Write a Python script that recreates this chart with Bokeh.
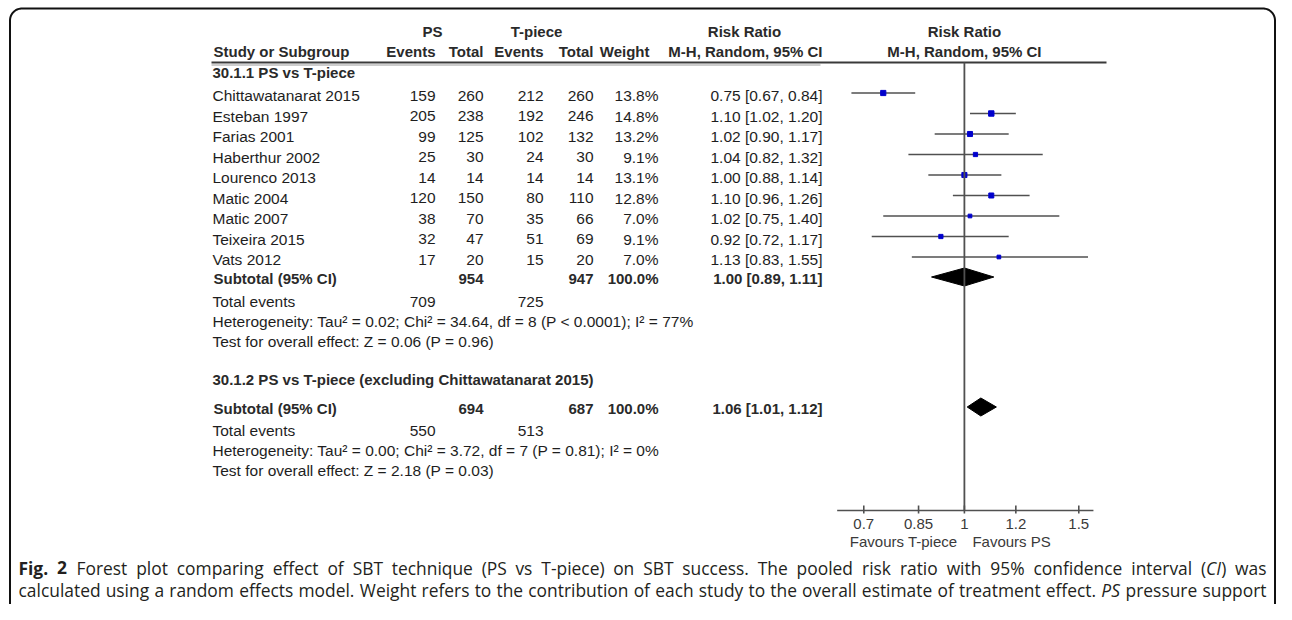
import numpy as np
from bokeh.plotting import figure
from bokeh.models import Range1d, LogScale, ColumnDataSource
from bokeh.core.properties import value
from bokeh.embed import file_html
from bokeh.resources import INLINE

# ---------------- data ----------------
studies = ["Chittawatanarat 2015", "Esteban 1997", "Farias 2001", "Haberthur 2002",
           "Lourenco 2013", "Matic 2004", "Matic 2007", "Teixeira 2015", "Vats 2012"]
ps_events = [159, 205, 99, 25, 14, 120, 38, 32, 17]
ps_total = [260, 238, 125, 30, 14, 150, 70, 47, 20]
tp_events = [212, 192, 102, 24, 14, 80, 35, 51, 15]
tp_total = [260, 246, 132, 30, 14, 110, 66, 69, 20]
weights = [13.8, 14.8, 13.2, 9.1, 13.1, 12.8, 7.0, 9.1, 7.0]
rr = [0.75, 1.10, 1.02, 1.04, 1.00, 1.10, 1.02, 0.92, 1.13]
rr_lo = [0.67, 1.02, 0.90, 0.82, 0.88, 0.96, 0.75, 0.72, 0.83]
rr_hi = [0.84, 1.20, 1.17, 1.32, 1.14, 1.26, 1.40, 1.17, 1.55]

groups = ["30.1.1 PS vs T-piece", "30.1.2 PS vs T-piece (excluding Chittawatanarat 2015)"]
sub_ps_total = [954, 694]
sub_tp_total = [947, 687]
sub_weight = [100.0, 100.0]
sub_ps_events = [709, 550]
sub_tp_events = [725, 513]
sub_rr = [1.00, 1.06]
sub_lo = [0.89, 1.01]
sub_hi = [1.11, 1.12]
heterogeneity = ["Heterogeneity: Tau\u00b2 = 0.02; Chi\u00b2 = 34.64, df = 8 (P < 0.0001); I\u00b2 = 77%",
                 "Heterogeneity: Tau\u00b2 = 0.00; Chi\u00b2 = 3.72, df = 7 (P = 0.81); I\u00b2 = 0%"]
overall = ["Test for overall effect: Z = 0.06 (P = 0.96)",
           "Test for overall effect: Z = 2.18 (P = 0.03)"]

tick_values = [0.7, 0.85, 1, 1.2, 1.5]
tick_labels = ["0.7", "0.85", "1", "1.2", "1.5"]
favours = ["Favours T-piece", "Favours PS"]

# caption: each line is a list of words; each word a list of (text, style) runs
caption_lines = [
    [[("Fig.", "bold")], [("2", "bold")]] +
    [[(w, "normal")] for w in "Forest plot comparing effect of SBT technique (PS vs T-piece) on SBT success. The pooled risk ratio with 95% confidence interval".split()] +
    [[("(", "normal"), ("CI", "italic"), (")", "normal")], [("was", "normal")]],
    [[(w, "normal")] for w in "calculated using a random effects model. Weight refers to the contribution of each study to the overall estimate of treatment effect.".split()] +
    [[("PS", "italic")], [("pressure", "normal")], [("support", "normal")]],
]

# ---------------- layout constants (page pixels) ----------------
W, H = 1276, 604
X_ONE, PX_PER_LOG = 963.9, 282.1          # where RR=1 sits and px per ln unit
AXIS_LIMITS = (0.637, 1.58)
Y_HEAD1, Y_HEAD2, Y_RULE = 31, 51, 62
Y_G1 = 72
Y_ROW0, ROW_STEP = 95, 20.5
Y_SUB1, Y_TE1, Y_HET1, Y_OV1 = 278, 301, 321, 341
Y_G2, Y_SUB2, Y_TE2, Y_HET2, Y_OV2 = 379, 408, 430, 450, 470
Y_AXIS = 510
X_NAME = 212
X_PSE, X_PST, X_TPE, X_TPT, X_W, X_CI = 435, 483, 543, 593, 658, 822
CAP_X0, CAP_X1, CAP_Y = 18, 1266, [567, 589.5]

FONT = value("Liberation Sans")
TXT = "#1e1e1e"
SIZE = "15.5px"
BSIZE = "15px"

p = figure(width=W, height=H, x_range=Range1d(0, W), y_range=Range1d(H, 0),
           output_backend="svg", toolbar_location=None, min_border=0,
           outline_line_color=None)
p.axis.visible = False
p.grid.visible = False
p.background_fill_color = "white"
p.border_fill_color = "white"

rr_start = float(np.exp((0 - X_ONE) / PX_PER_LOG))
rr_end = float(np.exp((W - X_ONE) / PX_PER_LOG))
p.extra_x_ranges = {"rr": Range1d(rr_start, rr_end)}
p.extra_x_scales = {"rr": LogScale()}

# rounded frame
r = 12
left, right, top, bottom = 9.5, 1274.5, 8, 640
a1 = np.linspace(np.pi, 1.5 * np.pi, 20)
a2 = np.linspace(1.5 * np.pi, 2 * np.pi, 20)
fx = [left] + list(left + r + r * np.cos(a1)) + list(right - r + r * np.cos(a2)) + [right]
fy = [bottom] + list(top + r + r * np.sin(a1)) + list(top + r + r * np.sin(a2)) + [bottom]
p.line(fx, fy, line_color="#111111", line_width=2)


def txt(x, y, s, align="left", bold=False, size=None, color=TXT, italic=False, font=FONT):
    style = "bold" if bold else ("italic" if italic else "normal")
    p.text(x=[x], y=[y], text=[s], text_align=align, text_baseline="middle",
           text_font=font, text_font_size=size or (BSIZE if bold else SIZE),
           text_font_style=style, text_color=color)


# header
hdr = "#2a2a2a"
txt(432, Y_HEAD1, "PS", "center", True, color=hdr)
txt(536, Y_HEAD1, "T-piece", "center", True, color=hdr)
txt(744, Y_HEAD1, "Risk Ratio", "center", True, color=hdr)
txt(X_ONE, Y_HEAD1, "Risk Ratio", "center", True, color=hdr)
txt(X_NAME + 1, Y_HEAD2, "Study or Subgroup", "left", True, color=hdr)
for xx, s in [(X_PSE, "Events"), (X_PST, "Total"), (X_TPE, "Events"), (X_TPT, "Total"),
              (X_W - 9, "Weight"), (X_CI, "M-H, Random, 95% CI")]:
    txt(xx, Y_HEAD2, s, "right", True, color=hdr)
txt(X_ONE, Y_HEAD2, "M-H, Random, 95% CI", "center", True, color=hdr)
p.segment(x0=[211], x1=[1106], y0=[Y_RULE], y1=[Y_RULE], line_color="#3a3a3a", line_width=2)
p.segment(x0=[211], x1=[820], y0=[Y_RULE + 2.5], y1=[Y_RULE + 2.5], line_color="#9a9a9a", line_width=1)

# study rows
ys = [Y_ROW0 + ROW_STEP * i for i in range(len(studies))]
src = ColumnDataSource(dict(
    y=ys, name=studies,
    pse=[str(v) for v in ps_events], pst=[str(v) for v in ps_total],
    tpe=[str(v) for v in tp_events], tpt=[str(v) for v in tp_total],
    w=[f"{v:.1f}%" for v in weights],
    ci=[f"{a:.2f} [{b:.2f}, {c:.2f}]" for a, b, c in zip(rr, rr_lo, rr_hi)],
    rr=rr, lo=rr_lo, hi=rr_hi,
    ym=[y - 2.5 for y in ys],
    sz=[1.4 * np.sqrt(w) for w in weights],
))
common = dict(text_baseline="middle", text_font=FONT, text_font_size=SIZE, text_color=TXT, source=src)
p.text(x=X_NAME, y="y", text="name", text_align="left", **common)
for xx, col in [(X_PSE, "pse"), (X_PST, "pst"), (X_TPE, "tpe"), (X_TPT, "tpt"), (X_W, "w"), (X_CI, "ci")]:
    p.text(x=xx, y="y", text=col, text_align="right", **common)

p.segment(x0="lo", x1="hi", y0="ym", y1="ym", source=src, x_range_name="rr",
          line_color="#505050", line_width=1.6)
p.scatter(x="rr", y="ym", size="sz", marker="square", source=src, x_range_name="rr",
          fill_color="#0000cc", line_color="#0000cc")

# group headings, subtotals
gy = [Y_G1, Y_G2]
suby = [Y_SUB1, Y_SUB2]
tey = [Y_TE1, Y_TE2]
hety = [Y_HET1, Y_HET2]
ovy = [Y_OV1, Y_OV2]
for k in range(2):
    txt(X_NAME, gy[k], groups[k], "left", True, color=hdr)
    txt(X_NAME + 1, suby[k], "Subtotal (95% CI)", "left", True, color=hdr)
    txt(X_PST, suby[k], str(sub_ps_total[k]), "right", True, color=hdr)
    txt(X_TPT, suby[k], str(sub_tp_total[k]), "right", True, color=hdr)
    txt(X_W, suby[k], f"{sub_weight[k]:.1f}%", "right", True, color=hdr)
    txt(X_CI, suby[k], f"{sub_rr[k]:.2f} [{sub_lo[k]:.2f}, {sub_hi[k]:.2f}]", "right", True, color=hdr)
    txt(X_NAME, tey[k], "Total events", "left")
    txt(X_PSE, tey[k], str(sub_ps_events[k]), "right")
    txt(X_TPE, tey[k], str(sub_tp_events[k]), "right")
    txt(X_NAME, hety[k], heterogeneity[k], "left")
    txt(X_NAME, ovy[k], overall[k], "left")

dsrc = ColumnDataSource(dict(
    xs=[[lo_, m_, hi_, m_] for lo_, m_, hi_ in zip(sub_lo, sub_rr, sub_hi)],
    ys=[[y - 1.5, y - 10.5, y - 1.5, y + 7.5] for y in suby],
))
p.patches(xs="xs", ys="ys", source=dsrc, x_range_name="rr",
          fill_color="black", line_color="black", line_width=1)

# vertical line of no effect and axis
p.segment(x0=[1], x1=[1], y0=[Y_RULE], y1=[Y_AXIS], x_range_name="rr",
          line_color="#505050", line_width=1.8)
p.segment(x0=[AXIS_LIMITS[0]], x1=[AXIS_LIMITS[1]], y0=[Y_AXIS], y1=[Y_AXIS],
          x_range_name="rr", line_color="#505050", line_width=1.6)
p.segment(x0=tick_values, x1=tick_values, y0=[Y_AXIS - 5] * 5, y1=[Y_AXIS + 3] * 5,
          x_range_name="rr", line_color="#505050", line_width=1.6)
p.text(x=tick_values, y=[Y_AXIS + 13] * 5, text=tick_labels, x_range_name="rr",
       text_align="center", text_baseline="middle", text_font=FONT,
       text_font_size="15px", text_color="#3a3a3a")
p.text(x=[1, 1], y=[Y_AXIS + 31] * 2, text=favours, x_offset=[-7, 8], x_range_name="rr",
       text_align=["right", "left"], text_baseline="middle", text_font=FONT,
       text_font_size="15px", text_color="#3a3a3a")

# ---------------- caption (justified, Open Sans metrics in 1/2048 em) ----------------
OS_W = {" ": 532, "(": 578, ")": 578, ",": 502, "-": 659, ".": 545, "%": 1686, ":": 545,
        "A": 1296, "B": 1327, "C": 1292, "D": 1493, "E": 1139, "F": 1057, "G": 1491, "H": 1511,
        "I": 571, "J": 547, "K": 1257, "L": 1063, "M": 1849, "N": 1544, "O": 1595, "P": 1233,
        "Q": 1595, "R": 1266, "S": 1104, "T": 1118, "U": 1509, "V": 1231, "W": 1884, "X": 1202,
        "Y": 1180, "Z": 1165,
        "a": 1139, "b": 1255, "c": 975, "d": 1255, "e": 1149, "f": 694, "g": 1122, "h": 1257,
        "i": 518, "j": 518, "k": 1075, "l": 518, "m": 1905, "n": 1257, "o": 1237, "p": 1255,
        "q": 1255, "r": 836, "s": 977, "t": 723, "u": 1257, "v": 1026, "w": 1593, "x": 1073,
        "y": 1028, "z": 977}
CAP_PX = 17.4
STYLE_F = {"normal": 1.0, "bold": 1.07, "italic": 0.96}


def run_w(t, style):
    return sum(OS_W.get(c, 1171) for c in t) / 2048 * CAP_PX * STYLE_F[style]


cap = {"normal": ([], [], []), "bold": ([], [], []), "italic": ([], [], [])}
for line, yy in zip(caption_lines, CAP_Y):
    wws = [sum(run_w(t, s) for t, s in word) for word in line]
    gap = (CAP_X1 - CAP_X0 - sum(wws)) / (len(line) - 1)
    xx = CAP_X0
    for word, ww in zip(line, wws):
        xr = xx
        for t, s in word:
            cap[s][0].append(xr)
            cap[s][1].append(yy)
            cap[s][2].append(t)
            xr += run_w(t, s)
        xx += ww + gap
for s, (cx, cy, ct) in cap.items():
    p.text(x=cx, y=cy, text=ct, text_align="left", text_baseline="middle",
           text_font=value("Open Sans"), text_font_size=f"{CAP_PX}px",
           text_font_style=s, text_color="#231f20")

open("out.html", "w").write(file_html(p, INLINE))
